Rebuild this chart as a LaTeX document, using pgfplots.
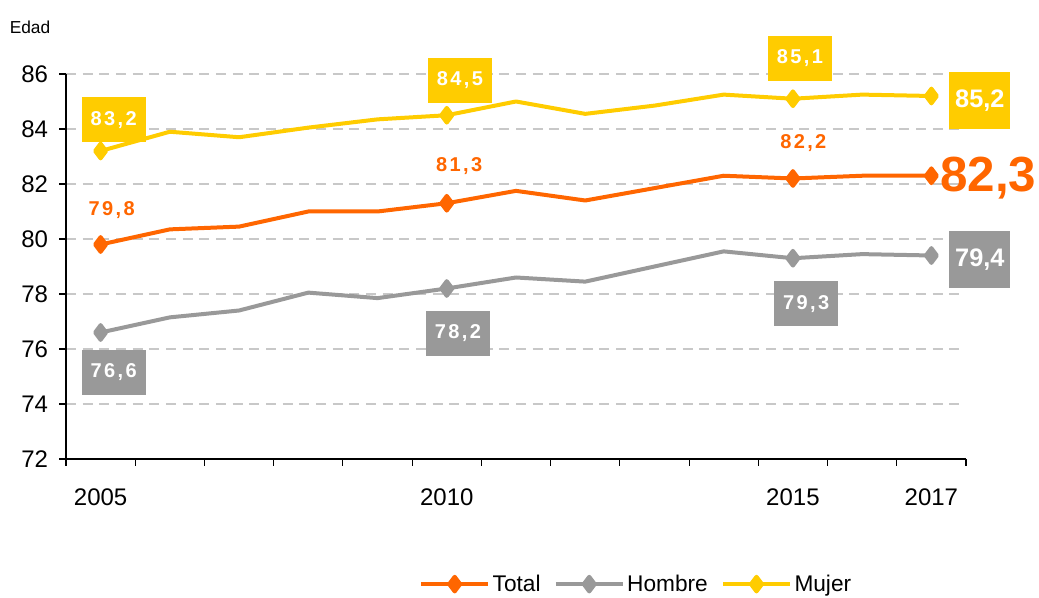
\documentclass[border=0pt]{standalone}
\usepackage{fontspec}
\setmainfont{Liberation Sans}
\newfontfamily\spaced[LetterSpace=12]{Liberation Sans}
\usepackage{pgfplots}
\pgfplotsset{compat=1.18}
\definecolor{cOr}{HTML}{FF6600}
\definecolor{cGr}{HTML}{999999}
\definecolor{cYe}{HTML}{FFCC00}
\definecolor{cGrid}{HTML}{C8C8C8}
\begin{document}
\begin{tikzpicture}
\useasboundingbox (-49.5pt,-104.25pt) rectangle (729.75pt,344.25pt);
\begin{axis}[at={(0pt,0pt)}, anchor=south west, scale only axis,
  width=675pt, height=288.75pt,
  xmin=2004.5, xmax=2017.5, ymin=72, ymax=86,
  clip=false,
  axis lines=left, axis line style={-, line width=0.8pt, black},
  xtick={2004.5,2005.5,...,2017.5}, xticklabels={},
  extra x ticks={2005,2010,2015,2017},
  extra x tick labels={2005,2010,2015,2017},
  extra x tick style={major tick length=0pt, grid=none, tick label style={yshift=-19pt}},
  ytick={72,74,...,86},
  yticklabel style={xshift=-5pt},
  tick align=outside, major tick length=5pt,
  tick style={black, line width=0.8pt},
  ymajorgrids, grid style={cGrid, line width=0.8pt, dash pattern=on 7.5pt off 5pt},
  tick label style={font=\fontsize{18}{20}\selectfont},
  /pgf/number format/assume math mode=true,
  legend style={at={(0.634,-0.325)}, anchor=center, draw=none, legend columns=3,
    font=\fontsize{17}{20}\selectfont,
    /tikz/every even column/.append style={column sep=8pt}},
  legend image code/.code={\draw[#1, mark indices={2}] plot coordinates {(0pt,0pt) (25pt,0pt) (50pt,0pt)};},
  every axis plot/.append style={line width=3pt, line join=round, mark=diamond*, mark size=5.5pt, mark indices={1,6,11,13}, mark options={solid}},
]
\addplot[cOr] coordinates {(2005,79.8)(2006,80.35)(2007,80.45)(2008,81.0)(2009,81.0)(2010,81.3)(2011,81.75)(2012,81.4)(2013,81.85)(2014,82.3)(2015,82.2)(2016,82.3)(2017,82.3)};
\addlegendentry{Total}
\addplot[cGr] coordinates {(2005,76.6)(2006,77.15)(2007,77.4)(2008,78.05)(2009,77.85)(2010,78.2)(2011,78.6)(2012,78.45)(2013,79.0)(2014,79.55)(2015,79.3)(2016,79.45)(2017,79.4)};
\addlegendentry{Hombre}
\addplot[cYe] coordinates {(2005,83.2)(2006,83.9)(2007,83.7)(2008,84.05)(2009,84.35)(2010,84.5)(2011,85.0)(2012,84.55)(2013,84.85)(2014,85.25)(2015,85.1)(2016,85.25)(2017,85.2)};
\addlegendentry{Mujer}

\tikzset{sbox/.style={text=white, inner sep=0pt, minimum width=48pt, minimum height=33.75pt, font=\spaced\bfseries\fontsize{15}{15}\selectfont},
  bbox/.style={text=white, inner sep=0pt, minimum width=45.75pt, minimum height=42.75pt, font=\bfseries\fontsize{19}{19}\selectfont},
  olab/.style={text=cOr, font=\spaced\bfseries\fontsize{15}{15}\selectfont}}
\node[sbox, fill=cYe] at (axis cs:2005.19,84.33) {83,2};
\node[sbox, fill=cYe] at (axis cs:2010.19,85.78) {84,5};
\node[sbox, fill=cYe] at (axis cs:2015.10,86.58) {85,1};
\node[bbox, fill=cYe] at (axis cs:2017.70,85.05) {85,2};
\node[olab] at (axis cs:2005.16,81.05) {79,8};
\node[olab] at (axis cs:2010.18,82.65) {81,3};
\node[olab] at (axis cs:2015.15,83.49) {82,2};
\node[text=cOr, font=\bfseries\fontsize{37}{37}\selectfont] at (axis cs:2017.82,82.22) {82,3};
\node[sbox, fill=cGr] at (axis cs:2005.19,75.16) {76,6};
\node[sbox, fill=cGr] at (axis cs:2010.16,76.58) {78,2};
\node[sbox, fill=cGr] at (axis cs:2015.19,77.64) {79,3};
\node[bbox, fill=cGr] at (axis cs:2017.70,79.24) {79,4};
\node[font=\fontsize{13}{13}\selectfont] at (axis cs:2003.98,87.71) {Edad};
\end{axis}
\end{tikzpicture}
\end{document}
